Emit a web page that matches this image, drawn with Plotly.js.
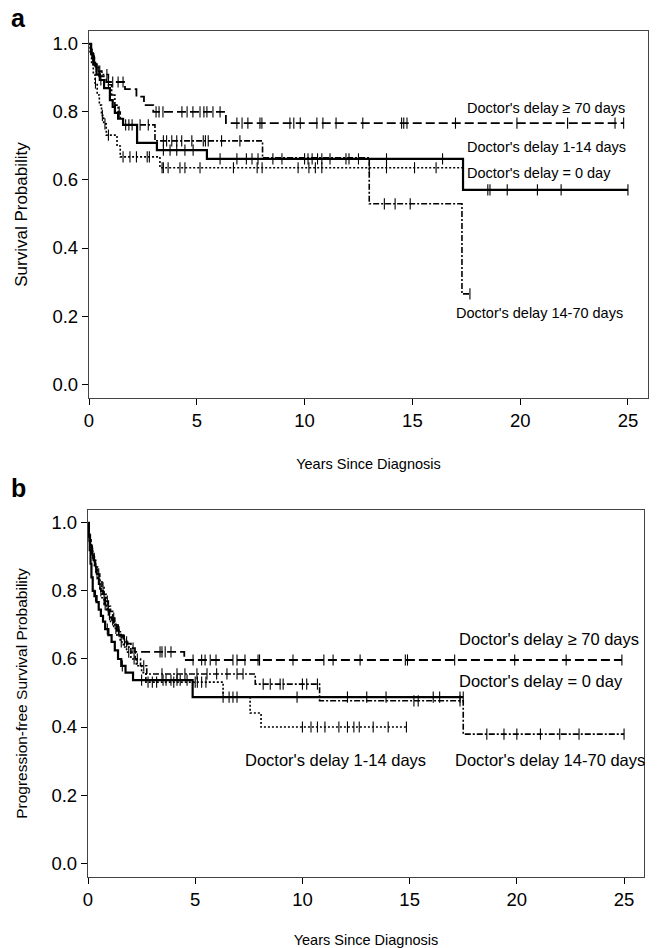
<!DOCTYPE html>
<html>
<head>
<meta charset="utf-8">
<script src="https://cdn.plot.ly/plotly-3.0.1.min.js"></script>
<style>
  html, body { margin: 0; padding: 0; background: #fff; }
  #chart { width: 662px; height: 948px; }
</style>
</head>
<body>
<div id="chart"></div>
<script>
// ---------- Panel a: overall survival (Kaplan-Meier step curves) ----------
const a_ge70_t = [0, 0.08, 0.15, 0.25, 0.35, 0.5, 0.8, 1.67, 2.2, 2.55, 2.98, 6.35, 24.8];
const a_ge70_s = [1.0, 0.98, 0.96, 0.94, 0.92, 0.905, 0.888, 0.867, 0.845, 0.82, 0.80, 0.767, 0.767];
const a_ge70_c = [0.2, 0.45, 0.9, 1.1, 1.35, 1.58, 3.11, 3.25, 3.43, 4.31, 4.55, 4.82, 5.15, 5.33, 5.47, 5.75, 6.08,
                  6.86, 7.1, 7.37, 7.93, 8.02, 9.32, 9.5, 9.8, 10.57, 10.85, 11.46, 12.7, 14.5, 14.6, 14.75, 17.0, 19.85, 22.2, 24.4, 24.8];

const a_d0_t = [0, 0.1, 0.2, 0.35, 0.5, 0.7, 0.97, 1.1, 1.2, 1.35, 1.58, 2.23, 3.15, 5.47, 17.35, 25.0];
const a_d0_s = [1.0, 0.97, 0.94, 0.91, 0.894, 0.87, 0.835, 0.815, 0.797, 0.78, 0.762, 0.709, 0.688, 0.662, 0.571, 0.571];
const a_d0_c = [0.15, 0.55, 1.7, 1.85, 3.45, 3.76, 4.07, 4.45, 4.83, 6.08, 6.86, 7.3, 7.56, 7.84, 8.53, 8.95, 10.0, 10.16,
                10.35, 10.6, 10.8, 11.18, 11.92, 12.06, 12.5, 13.8, 16.4, 18.5, 18.6, 19.4, 20.8, 21.9, 25.0];

const a_d1_t = [0, 0.05, 0.12, 0.2, 0.28, 0.38, 0.48, 0.58, 0.68, 0.8, 1.3, 1.45, 3.29, 17.35];
const a_d1_s = [1.0, 0.97, 0.94, 0.91, 0.885, 0.85, 0.82, 0.79, 0.765, 0.732, 0.70, 0.668, 0.636, 0.636];
const a_d1_c = [0.3, 0.62, 0.74, 0.9, 1.58, 1.9, 2.2, 2.7, 2.8, 3.39, 3.45, 3.67, 4.22, 4.45, 5.15, 6.7, 7.8, 8.03,
                9.7, 10.2, 10.5, 10.8, 13.0, 13.8, 15.1, 16.1, 17.35];

const a_d14_t = [0, 0.1, 0.2, 0.3, 0.45, 0.6, 0.9, 1.05, 1.2, 1.35, 1.45, 1.58, 3.06, 8.05, 13.0, 17.3, 17.67];
const a_d14_s = [1.0, 0.97, 0.95, 0.93, 0.92, 0.91, 0.88, 0.85, 0.82, 0.80, 0.78, 0.762, 0.715, 0.665, 0.53, 0.265, 0.265];
const a_d14_c = [0.25, 0.5, 0.83, 1.4, 2.0, 2.37, 2.75, 3.45, 3.6, 3.84, 4.07, 4.3, 4.77, 5.3, 5.4, 5.53, 6.15, 7.0,
                 13.7, 14.2, 14.9, 17.67];

// ---------- Panel b: progression-free survival ----------
const b_ge70_t = [0, 0.04, 0.08, 0.12, 0.18, 0.25, 0.32, 0.4, 0.5, 0.6, 0.7, 0.8, 0.9, 1.0, 1.1, 1.2, 1.35, 1.5, 1.65, 1.8, 2.0, 2.19, 4.49, 24.9];
const b_ge70_s = [1.0, 0.97, 0.95, 0.93, 0.91, 0.89, 0.87, 0.85, 0.82, 0.80, 0.78, 0.76, 0.745, 0.73, 0.715, 0.70, 0.685, 0.67, 0.655, 0.645, 0.632, 0.621, 0.597, 0.597];
const b_ge70_c = [0.1, 0.22, 0.36, 0.55, 0.75, 0.95, 1.15, 1.42, 1.7, 2.1, 3.36, 3.45, 3.6, 3.87, 4.9, 5.3, 5.46, 5.7, 5.97,
                  6.76, 6.95, 7.32, 7.93, 8.0, 9.56, 11.0, 11.43, 12.69, 14.8, 14.9, 17.1, 19.9, 22.3, 24.9];

const b_d0_t = [0, 0.04, 0.08, 0.12, 0.16, 0.22, 0.3, 0.4, 0.5, 0.6, 0.7, 0.8, 0.95, 1.1, 1.25, 1.4, 1.55, 1.75, 2.1, 4.88, 17.5];
const b_d0_s = [1.0, 0.96, 0.92, 0.88, 0.84, 0.80, 0.785, 0.767, 0.745, 0.727, 0.71, 0.688, 0.67, 0.65, 0.625, 0.60, 0.58, 0.56, 0.538, 0.488, 0.488];
const b_d0_c = [0.05, 0.35, 0.9, 1.6, 2.5, 3.5, 3.64, 3.87, 4.15, 4.3, 4.62, 6.3, 6.58, 6.76, 6.95, 9.75, 12.1, 13.0, 13.9, 16.1, 16.4, 17.35, 17.5];

const b_d14_t = [0, 0.04, 0.08, 0.14, 0.2, 0.28, 0.36, 0.45, 0.55, 0.65, 0.75, 0.85, 0.95, 1.05, 1.15, 1.25, 1.4, 1.55, 1.7, 1.85, 2.0, 2.2, 2.45, 2.74, 7.8, 10.8, 17.5, 25.0];
const b_d14_s = [1.0, 0.97, 0.95, 0.93, 0.91, 0.89, 0.87, 0.85, 0.83, 0.81, 0.79, 0.77, 0.755, 0.74, 0.72, 0.70, 0.68, 0.665, 0.65, 0.635, 0.62, 0.60, 0.58, 0.556, 0.526, 0.477, 0.379, 0.379];
const b_d14_c = [0.12, 0.3, 0.5, 0.7, 0.9, 1.2, 1.45, 1.8, 2.3, 2.6, 3.45, 4.15, 4.52, 5.08, 5.55, 6.0, 6.48, 6.95, 7.23,
                 8.17, 8.5, 8.96, 9.1, 10.0, 10.2, 10.7, 15.2, 15.4, 17.35, 18.6, 19.4, 20.0, 21.1, 22.0, 22.9, 25.0];

const b_d1_t = [0, 0.05, 0.1, 0.15, 0.22, 0.3, 0.38, 0.46, 0.55, 0.65, 0.75, 0.85, 0.95, 1.05, 1.2, 1.35, 1.5, 1.65, 1.8, 2.0, 2.25, 2.5, 2.7, 6.3, 7.56, 8.07, 14.85];
const b_d1_s = [1.0, 0.96, 0.94, 0.92, 0.90, 0.87, 0.85, 0.83, 0.80, 0.78, 0.76, 0.745, 0.73, 0.71, 0.69, 0.67, 0.65, 0.635, 0.62, 0.60, 0.58, 0.56, 0.532, 0.488, 0.441, 0.40, 0.40];
const b_d1_c = [0.2, 0.42, 0.6, 0.8, 1.0, 1.3, 1.55, 1.9, 2.15, 2.8, 3.0, 3.2, 4.0, 5.0, 5.1, 5.3, 5.5, 10.0, 10.4, 10.7,
                11.05, 11.7, 12.1, 12.4, 12.65, 13.3, 14.0, 14.85];

// Group labels
const groupLabels = {
  ge70: "Doctor's delay ≥ 70 days",
  d0: "Doctor's delay = 0 day",
  d1: "Doctor's delay 1-14 days",
  d14: "Doctor's delay 14-70 days"
};

// Line styles per group
const styles = {
  ge70: { color: '#000', width: 1.8, dash: '9px,4px' },
  d0:   { color: '#000', width: 2.2, dash: 'solid' },
  d1:   { color: '#000', width: 1.6, dash: '2px,2px' },
  d14:  { color: '#000', width: 1.6, dash: '6px,2px,2px,2px' }
};

// Value of a right-continuous step function at time t
function stepAt(ts, ss, t) {
  let v = ss[0];
  for (let i = 0; i < ts.length; i++) { if (ts[i] <= t + 1e-9) v = ss[i]; }
  return v;
}

function curve(ts, ss, key, xa, ya) {
  return { x: ts, y: ss, xaxis: xa, yaxis: ya, type: 'scatter', mode: 'lines',
           line: Object.assign({ shape: 'hv' }, styles[key]), hoverinfo: 'skip', showlegend: false };
}
// Censoring ticks sit on the curve at each censored time
function censors(ts, ss, cs, xa, ya) {
  return { x: cs, y: cs.map(t => stepAt(ts, ss, t)), xaxis: xa, yaxis: ya, type: 'scatter', mode: 'markers',
           marker: { symbol: 'line-ns-open', size: 8, color: '#000', line: { width: 1.1, color: '#000' } },
           hoverinfo: 'skip', showlegend: false };
}

const traces = [
  curve(a_ge70_t, a_ge70_s, 'ge70', 'x', 'y'), censors(a_ge70_t, a_ge70_s, a_ge70_c, 'x', 'y'),
  curve(a_d0_t, a_d0_s, 'd0', 'x', 'y'),       censors(a_d0_t, a_d0_s, a_d0_c, 'x', 'y'),
  curve(a_d1_t, a_d1_s, 'd1', 'x', 'y'),       censors(a_d1_t, a_d1_s, a_d1_c, 'x', 'y'),
  curve(a_d14_t, a_d14_s, 'd14', 'x', 'y'),    censors(a_d14_t, a_d14_s, a_d14_c, 'x', 'y'),
  curve(b_ge70_t, b_ge70_s, 'ge70', 'x2', 'y2'), censors(b_ge70_t, b_ge70_s, b_ge70_c, 'x2', 'y2'),
  curve(b_d0_t, b_d0_s, 'd0', 'x2', 'y2'),       censors(b_d0_t, b_d0_s, b_d0_c, 'x2', 'y2'),
  curve(b_d1_t, b_d1_s, 'd1', 'x2', 'y2'),       censors(b_d1_t, b_d1_s, b_d1_c, 'x2', 'y2'),
  curve(b_d14_t, b_d14_s, 'd14', 'x2', 'y2'),    censors(b_d14_t, b_d14_s, b_d14_c, 'x2', 'y2')
];

const W = 662, H = 948;
const FONT = 'Liberation Sans, Arial, sans-serif';

function xAxis(px0, px1, anchor, standoff) {
  return {
    domain: [px0 / W, px1 / W], anchor: anchor, range: [0, 25.93], autorange: false,
    tickvals: [0, 5, 10, 15, 20, 25], ticks: 'outside', ticklen: 6, tickwidth: 1, tickcolor: '#000',
    showgrid: false, zeroline: false, showline: true, linecolor: '#444', linewidth: 1.2, mirror: true,
    tickfont: { family: FONT, size: 18.5, color: '#000' }, automargin: false,
    title: { text: 'Years Since Diagnosis', font: { family: FONT, size: 14.5, color: '#000' }, standoff: standoff }
  };
}
function yAxis(top, bottom, anchor, title, size) {
  return {
    domain: [1 - bottom / H, 1 - top / H], anchor: anchor, range: [-0.041, 1.038], autorange: false,
    tickvals: [0, 0.2, 0.4, 0.6, 0.8, 1.0], tickformat: '.1f', ticks: 'outside', ticklen: 6, tickwidth: 1, tickcolor: '#000',
    showgrid: false, zeroline: false, showline: true, linecolor: '#444', linewidth: 1.2, mirror: true,
    tickfont: { family: FONT, size: 18.5, color: '#000' }, automargin: false,
    title: { text: title, font: { family: FONT, size: size, color: '#000' }, standoff: 20 }
  };
}

function label(text, x, y, xa, ya, size) {
  return { text: text, x: x, y: y, xref: xa, yref: ya, xanchor: 'left', yanchor: 'middle', showarrow: false,
           font: { family: FONT, size: size, color: '#000' } };
}

const layout = {
  width: W, height: H,
  margin: { l: 0, r: 0, t: 0, b: 0 },
  paper_bgcolor: '#fff', plot_bgcolor: '#fff',
  showlegend: false,
  xaxis: xAxis(89, 648, 'y', 28),
  yaxis: yAxis(31, 398, 'x', 'Survival Probability', 17),
  xaxis2: xAxis(88, 644, 'y2', 26),
  yaxis2: yAxis(510, 877, 'x2', 'Progression-free Survival Probability', 15.5),
  annotations: [
    { text: '<b>a</b>', x: 18 / W, y: 1 - 18 / H, xref: 'paper', yref: 'paper', xanchor: 'center', yanchor: 'middle',
      showarrow: false, font: { family: FONT, size: 25, color: '#000' } },
    { text: '<b>b</b>', x: 18 / W, y: 1 - 488 / H, xref: 'paper', yref: 'paper', xanchor: 'center', yanchor: 'middle',
      showarrow: false, font: { family: FONT, size: 25, color: '#000' } },
    label(groupLabels.ge70, 17.45, 0.812, 'x', 'y', 14.5),
    label(groupLabels.d1, 17.45, 0.697, 'x', 'y', 14.5),
    label(groupLabels.d0, 17.45, 0.62, 'x', 'y', 14.5),
    label(groupLabels.d14, 16.95, 0.209, 'x', 'y', 14.5),
    label(groupLabels.ge70, 17.2, 0.659, 'x2', 'y2', 16.5),
    label(groupLabels.d0, 17.2, 0.535, 'x2', 'y2', 16.5),
    label(groupLabels.d1, 7.23, 0.303, 'x2', 'y2', 16.5),
    label(groupLabels.d14, 17.0, 0.303, 'x2', 'y2', 16.5)
  ]
};

Plotly.newPlot('chart', traces, layout, { staticPlot: true, displayModeBar: false });
</script>
</body>
</html>
